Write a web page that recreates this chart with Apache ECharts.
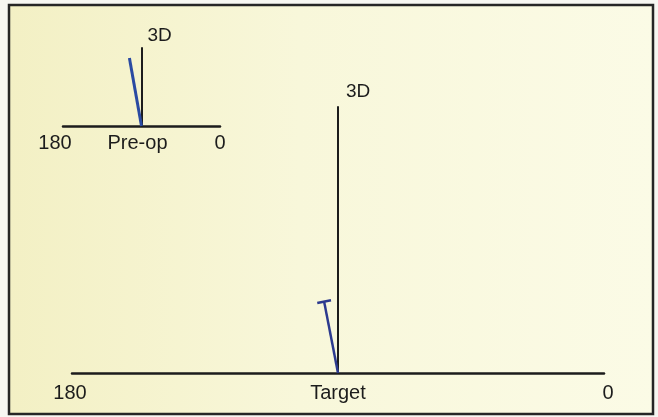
<!DOCTYPE html>
<html>
<head>
<meta charset="utf-8">
<script src="https://cdn.jsdelivr.net/npm/echarts@6/dist/echarts.min.js"></script>
<style>
  html, body { margin: 0; padding: 0; background: #f7f7f2; }
  #chart { width: 658px; height: 417px; }
</style>
</head>
<body>
<div id="chart"></div>
<script>
// astigmatism vectors: [magnitude in D, axis in degrees]
const preOpVector = [2.66, 100];
const targetVector = [0.82, 101];
const scaleMax = 3;
const tickValues = [-3, 0, 3];
const preOpLabels = ['180', 'Pre-op', '0'];
const targetLabels = ['180', 'Target', '0'];
const scaleName = '3D';

function toXY(v) {
  const a = v[1] * Math.PI / 180;
  return [v[0] * Math.cos(a), v[0] * Math.sin(a)];
}

const ink = '#1c1c1c';
const font = 'Liberation Sans, Arial, sans-serif';

function xAxisFor(gridIndex, labels, margin, size, rich) {
  return {
    type: 'value', gridIndex: gridIndex,
    min: -scaleMax, max: scaleMax, interval: scaleMax,
    axisLine: { onZero: true, lineStyle: { color: ink, width: 2.5 } },
    axisTick: { show: false },
    splitLine: { show: false },
    axisLabel: {
      margin: margin, color: ink, fontFamily: font, fontSize: size,
      showMinLabel: true, showMaxLabel: true,
      formatter: function (v) {
        const i = tickValues.indexOf(v);
        return '{t' + i + '|' + labels[i] + '}';
      },
      rich: rich
    }
  };
}

function yAxisFor(gridIndex, gap, pad, size) {
  return {
    type: 'value', gridIndex: gridIndex,
    min: 0, max: scaleMax,
    name: scaleName, nameLocation: 'end', nameGap: gap,
    nameTextStyle: { color: ink, fontFamily: font, fontSize: size, align: 'left', padding: [0, 0, 0, pad] },
    axisLine: { onZero: true, lineStyle: { color: ink, width: 2 } },
    axisTick: { show: false },
    axisLabel: { show: false },
    splitLine: { show: false }
  };
}

const chart = echarts.init(document.getElementById('chart'));

chart.setOption({
  animation: false,
  graphic: [{
    type: 'rect', z: -10,
    shape: { x: 9, y: 5, width: 644, height: 409 },
    style: {
      stroke: '#262626', lineWidth: 2.5,
      fill: new echarts.graphic.LinearGradient(0, 0, 1, 0, [
        { offset: 0, color: '#f3f0c4' },
        { offset: 0.45, color: '#f8f7da' },
        { offset: 1, color: '#fbfbe6' }
      ])
    }
  }],
  grid: [
    { left: 72, right: 54, top: 107, bottom: 44 },
    { left: 63, right: 438, top: 48, bottom: 291 }
  ],
  xAxis: [
    xAxisFor(0, targetLabels, 10, 20, {
      t0: { padding: [0, 4, 0, 0] }, t1: {}, t2: { padding: [0, 0, 0, 8] }
    }),
    xAxisFor(1, preOpLabels, 7, 20, {
      t0: { padding: [0, 16, 0, 0] }, t1: { padding: [0, 8, 0, 0] }, t2: {}
    })
  ],
  yAxis: [
    yAxisFor(0, 6, 8, 19),
    yAxisFor(1, 3, 6, 19)
  ],
  series: [
    {
      type: 'line', xAxisIndex: 0, yAxisIndex: 0,
      lineStyle: { color: '#2c3a8e', width: 2.5 },
      itemStyle: { color: '#2c3a8e' },
      data: [
        { value: [0, 0], symbol: 'none' },
        { value: toXY(targetVector), symbol: 'rect', symbolSize: [14, 2.5], symbolRotate: targetVector[1] - 90 }
      ]
    },
    {
      type: 'line', xAxisIndex: 1, yAxisIndex: 1,
      symbol: 'none',
      lineStyle: { color: '#2a4aa2', width: 3 },
      data: [[0, 0], toXY(preOpVector)]
    }
  ]
});
</script>
</body>
</html>
